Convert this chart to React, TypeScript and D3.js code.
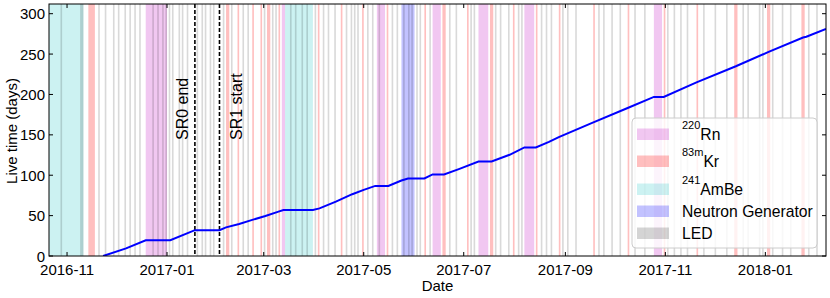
import React from "react"
import * as d3 from "d3"

// cumulative live time, read at the kinks of the curve
const liveDates = [
  "2016-11-23", "2016-12-07", "2016-12-19", "2017-01-03", "2017-01-18", "2017-02-02",
  "2017-02-06", "2017-02-14", "2017-02-22", "2017-03-02", "2017-03-10", "2017-03-13",
  "2017-03-31", "2017-04-04", "2017-04-14", "2017-04-24", "2017-05-01", "2017-05-08",
  "2017-05-16", "2017-05-24", "2017-05-28", "2017-06-07", "2017-06-12", "2017-06-19",
  "2017-06-28", "2017-07-10", "2017-07-18", "2017-07-29", "2017-08-07", "2017-08-14",
  "2017-08-22", "2017-08-28", "2017-09-17", "2017-10-09", "2017-10-25", "2017-10-31",
  "2017-11-20", "2017-12-14", "2018-01-03", "2018-01-24", "2018-01-26", "2018-02-07",
]
const liveDays = [
  0, 9.5, 19.5, 19.5, 32, 32,
  35.5, 39.7, 44.7, 49.6, 55, 57,
  57, 59, 67.4, 76.5, 81.9, 86.8,
  86.8, 93.4, 96, 96, 101, 101,
  107.6, 117, 117, 125.3, 134.4, 134.4,
  141.2, 147.2, 164.6, 183.2, 197, 197,
  215, 234.9, 252.7, 270.5, 271.4, 281.2,
]

const rnPeriods = [
  ["2016-12-19", "2017-01-01"], ["2017-03-12", "2017-03-14"], ["2017-05-09", "2017-05-14"],
  ["2017-06-12", "2017-06-17"], ["2017-07-10", "2017-07-16"], ["2017-08-07", "2017-08-13"],
  ["2017-10-25", "2017-10-30"],
]
const krPeriods = [
  ["2016-11-14", "2016-11-18"], ["2017-02-06", "2017-02-08"], ["2017-02-13", "2017-02-14"],
  ["2017-02-22", "2017-02-23"], ["2017-02-27", "2017-02-28"], ["2017-03-03", "2017-03-05"],
  ["2017-03-10", "2017-03-11"], ["2017-04-03", "2017-04-04"], ["2017-04-17", "2017-04-18"],
  ["2017-04-30", "2017-05-01"], ["2017-05-15", "2017-05-16"], ["2017-06-07", "2017-06-08"],
  ["2017-06-18", "2017-06-20"], ["2017-07-03", "2017-07-04"], ["2017-07-17", "2017-07-19"],
  ["2017-07-31", "2017-08-01"], ["2017-08-14", "2017-08-15"], ["2017-08-28", "2017-08-29"],
  ["2017-09-18", "2017-09-19"], ["2017-10-09", "2017-10-10"], ["2017-10-31", "2017-11-01"],
  ["2017-11-20", "2017-11-21"], ["2017-12-13", "2017-12-15"], ["2018-01-02", "2018-01-04"],
  ["2018-01-23", "2018-01-25"],
]
const ambePeriods = [["2016-10-15", "2016-11-11"], ["2017-03-14", "2017-03-31"]]
const ngPeriods = [["2017-05-24", "2017-06-01"]]
const ledDays = [
  "2016-10-28", "2016-11-09", "2016-11-10", "2016-11-20", "2016-11-24", "2016-11-29",
  "2016-12-02", "2016-12-06", "2016-12-09", "2016-12-12", "2016-12-15", "2016-12-23",
  "2016-12-26", "2016-12-29", "2016-12-31", "2017-01-02", "2017-01-04", "2017-01-08",
  "2017-01-10", "2017-01-13", "2017-01-19", "2017-01-22", "2017-01-24", "2017-01-27",
  "2017-01-29", "2017-02-04", "2017-02-09", "2017-02-16", "2017-02-19", "2017-03-01",
  "2017-03-06", "2017-03-08", "2017-03-17", "2017-03-20", "2017-03-24", "2017-03-27",
  "2017-04-01", "2017-04-06", "2017-04-09", "2017-04-13", "2017-04-20", "2017-04-23",
  "2017-04-25", "2017-04-27", "2017-05-03", "2017-05-06", "2017-05-10", "2017-05-18",
  "2017-05-21", "2017-05-25", "2017-05-28", "2017-05-30", "2017-06-02", "2017-06-04",
  "2017-06-10", "2017-06-22", "2017-06-26",
  "2017-07-05", "2017-07-07", "2017-07-20", "2017-07-23", "2017-07-28", "2017-08-03",
  "2017-08-05", "2017-08-17", "2017-08-20", "2017-08-23", "2017-08-30", "2017-09-02",
  "2017-09-07", "2017-09-21", "2017-09-24", "2017-09-29", "2017-10-04", "2017-10-13",
  "2017-10-19", "2017-11-02", "2017-11-06", "2017-11-10", "2017-11-14", "2017-11-24",
  "2017-12-01", "2017-12-08", "2017-12-18", "2017-12-21", "2017-12-28", "2017-12-30",
  "2018-01-05", "2018-01-11", "2018-01-16", "2018-01-27", "2018-02-01",
]
const runDates = ["2017-01-18", "2017-02-02"]
const runLabels = ["SR0 end", "SR1 start"]
const yTicks = [0, 50, 100, 150, 200, 250, 300]

const parse = d3.timeParse("%Y-%m-%d")
const fmt = d3.timeFormat("%Y-%m")

const W = 830, H = 298
const m = { left: 49, right: 826, top: 4, bottom: 256 }
const font = "'Liberation Sans', Arial, sans-serif"
const labelShift = [-6.5, 23]

export default function App() {
  const x = d3.scaleTime()
    .domain([parse("2016-10-21"), parse("2018-02-07")])
    .range([m.left, m.right])
  const y = d3.scaleLinear().domain([0, 312]).range([m.bottom, m.top])

  const line = d3.line<number>()
    .x((d, i) => x(parse(liveDates[i])))
    .y(d => y(d))

  const spans = (list, fill, op, key) => list.map((p, i) => {
    const x0 = x(parse(p[0])), x1 = x(parse(p[1]))
    return <rect key={key + i} x={x0} y={m.top} width={Math.max(x1 - x0, 1.5)}
      height={m.bottom - m.top} fill={fill} fillOpacity={op} />
  })
  const leds = ledDays.map((d, i) => {
    const t = parse(d)
    const x0 = x(t), x1 = x(d3.timeDay.offset(t, 1))
    return <rect key={"led" + i} x={x0} y={m.top} width={x1 - x0}
      height={m.bottom - m.top} fill="#000" fillOpacity={0.15} />
  })

  const xTicks = x.ticks(d3.timeMonth.every(2))

  const legend = [
    { sup: "220", name: "Rn", fill: "#bf00bf", op: 0.22, y: 140 },
    { sup: "83m", name: "Kr", fill: "#ff0000", op: 0.25, y: 167 },
    { sup: "241", name: "AmBe", fill: "#00bfbf", op: 0.2, y: 195 },
    { sup: "", name: "Neutron Generator", fill: "#0000ff", op: 0.24, y: 217 },
    { sup: "", name: "LED", fill: "#000", op: 0.17, y: 239 },
  ]

  return (
    <div style={{ position: "absolute", left: 0, top: 0 }}>
      <svg width={W} height={H} style={{ display: "block", fontFamily: font }}>
        <defs>
          <clipPath id="plot">
            <rect x={m.left} y={m.top} width={m.right - m.left} height={m.bottom - m.top} />
          </clipPath>
        </defs>
        <rect width={W} height={H} fill="#fff" />
        <g clipPath="url(#plot)">
          {spans(ambePeriods, "#00bfbf", 0.2, "ambe")}
          {spans(rnPeriods, "#bf00bf", 0.22, "rn")}
          {spans(krPeriods, "#ff0000", 0.25, "kr")}
          {spans(ngPeriods, "#0000ff", 0.24, "ng")}
          {leds}
          {runDates.map((r, i) => (
            <line key={"run" + i} x1={x(parse(r))} x2={x(parse(r))} y1={m.top} y2={m.bottom}
              stroke="#000" strokeWidth={1.6} strokeDasharray="4,2" />
          ))}
          <path d={line(liveDays)} fill="none" stroke="#0000ff" strokeWidth={2} />
        </g>
        {runDates.map((r, i) => (
          <text key={"rl" + i} transform={`translate(${x(parse(r)) + labelShift[i]},140) rotate(-90)`}
            fontSize={16} fill="#000">{runLabels[i]}</text>
        ))}

        <rect x={m.left} y={m.top} width={m.right - m.left} height={m.bottom - m.top}
          fill="none" stroke="#000" strokeWidth={1} />
        {xTicks.map((t, i) => (
          <g key={"xt" + i}>
            <line x1={x(t)} x2={x(t)} y1={m.bottom} y2={m.bottom - 4} stroke="#000" />
            <line x1={x(t)} x2={x(t)} y1={m.top} y2={m.top + 4} stroke="#000" />
            <text x={x(t)} y={274.5} textAnchor="middle" fontSize={15}>{fmt(t)}</text>
          </g>
        ))}
        {yTicks.map(v => (
          <g key={"yt" + v}>
            <line x1={m.left} x2={m.left + 4} y1={y(v)} y2={y(v)} stroke="#000" />
            <line x1={m.right} x2={m.right - 4} y1={y(v)} y2={y(v)} stroke="#000" />
            <text x={45} y={y(v) + 5.5} textAnchor="end" fontSize={15}>{v}</text>
          </g>
        ))}
        <text x={(m.left + m.right) / 2} y={291} textAnchor="middle" fontSize={15}>Date</text>
        <text transform={`translate(16.5,131) rotate(-90)`} textAnchor="middle"
          fontSize={15}>Live time (days)</text>

        <g>
          <rect x={632} y={118} width={185} height={130} rx={4} fill="#fff" fillOpacity={0.8}
            stroke="#ccc" strokeWidth={1} />
          {legend.map((l, i) => (
            <g key={"lg" + i}>
              <rect x={637} y={l.y - 11.5} width={32} height={11.5} fill={l.fill} fillOpacity={l.op} />
              {l.sup ? (
                <text x={682} y={l.y} fontSize={15.7}>
                  <tspan fontSize={11} dy={-11}>{l.sup}</tspan>
                  <tspan dy={11}>{l.name}</tspan>
                </text>
              ) : (
                <text x={682} y={l.y} fontSize={15.7}>{l.name}</text>
              )}
            </g>
          ))}
        </g>
      </svg>
    </div>
  )
}
